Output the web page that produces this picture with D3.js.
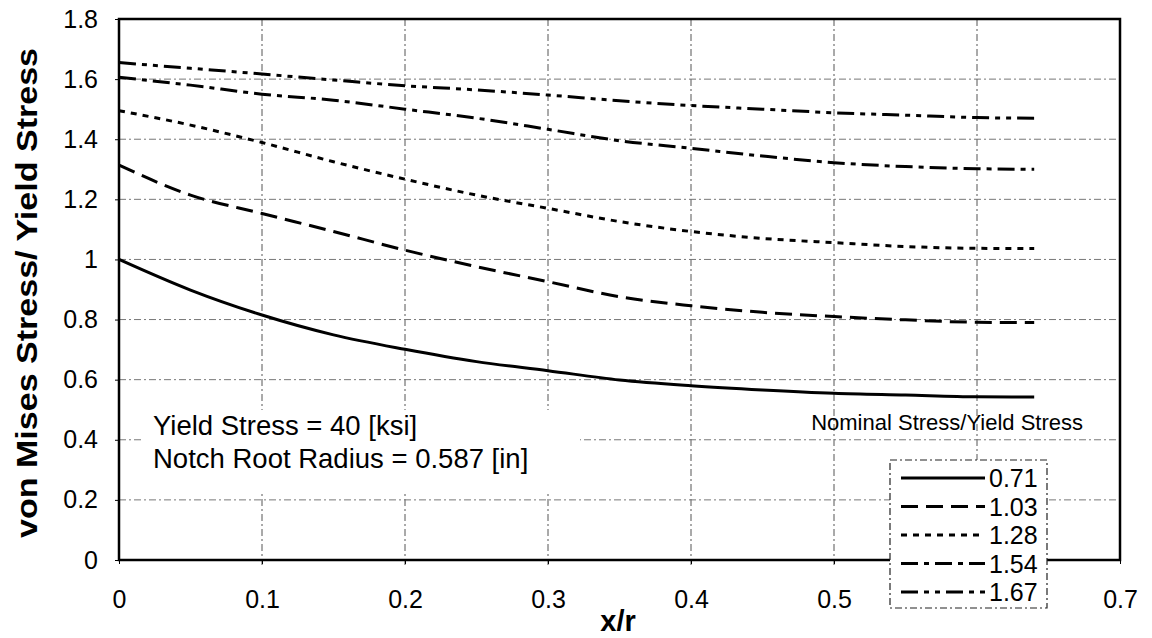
<!DOCTYPE html>
<html>
<head>
<meta charset="utf-8">
<script src="https://cdn.jsdelivr.net/npm/d3@7"></script>
<style>
  body { margin: 0; background: #fff; }
  svg { display: block; font-family: "Liberation Sans", Arial, sans-serif; }
</style>
</head>
<body>
<figure id="chart" style="margin:0"></figure>
<script>
// data
var xValues = [0, 0.05, 0.1, 0.15, 0.2, 0.25, 0.3, 0.35, 0.4, 0.45, 0.5, 0.55, 0.6, 0.64];
var s071 = [1.0, 0.898, 0.815, 0.749, 0.701, 0.66, 0.63, 0.599, 0.58, 0.566, 0.555, 0.549, 0.543, 0.542];
var s103 = [1.314, 1.214, 1.153, 1.093, 1.031, 0.976, 0.926, 0.876, 0.846, 0.824, 0.81, 0.799, 0.791, 0.79];
var s128 = [1.495, 1.447, 1.389, 1.325, 1.267, 1.214, 1.17, 1.126, 1.093, 1.07, 1.056, 1.043, 1.037, 1.036];
var s154 = [1.606, 1.58, 1.55, 1.53, 1.5, 1.47, 1.433, 1.395, 1.37, 1.344, 1.322, 1.309, 1.302, 1.3];
var s167 = [1.655, 1.636, 1.617, 1.597, 1.578, 1.564, 1.547, 1.528, 1.512, 1.5, 1.488, 1.48, 1.472, 1.47];
var seriesNames = ["0.71", "1.03", "1.28", "1.54", "1.67"];
var xTicks = [0, 0.1, 0.2, 0.3, 0.4, 0.5, 0.6, 0.7];
var yTicks = [0, 0.2, 0.4, 0.6, 0.8, 1, 1.2, 1.4, 1.6, 1.8];

var seriesData = [s071, s103, s128, s154, s167];
var dashes = [null, "17,8", "6,6", "17,6,5,6", "17,6,5,6,5,6"];

let dimensions = {
    width: 1152,
    height: 638,
    margin: { top: 19, right: 32, bottom: 78, left: 119 }
};
dimensions.boundedWidth = dimensions.width - dimensions.margin.left - dimensions.margin.right;
dimensions.boundedHeight = dimensions.height - dimensions.margin.top - dimensions.margin.bottom;

var root = d3.select("figure#chart")
    .append("svg")
    .attr("width", dimensions.width)
    .attr("height", dimensions.height);

var svg = root.append("g")
    .attr("transform", `translate(${dimensions.margin.left}, ${dimensions.margin.top})`);

var xScale = d3.scaleLinear().domain([0, 0.7]).range([0, dimensions.boundedWidth]);
var yScale = d3.scaleLinear().domain([0, 1.8]).range([dimensions.boundedHeight, 0]);

// grid lines
svg.append("g")
    .selectAll("line")
    .data(xTicks.filter(d => d > 0 && d < 0.7))
    .enter().append("line")
    .attr("x1", d => xScale(d)).attr("x2", d => xScale(d))
    .attr("y1", 0).attr("y2", dimensions.boundedHeight + 5)
    .attr("stroke", "#555").attr("stroke-width", 1)
    .attr("stroke-dasharray", "7,3,2,3");

svg.append("g")
    .selectAll("line")
    .data(yTicks.filter(d => d > 0 && d < 1.8))
    .enter().append("line")
    .attr("x1", 0).attr("x2", dimensions.boundedWidth)
    .attr("y1", d => yScale(d)).attr("y2", d => yScale(d))
    .attr("stroke", "#777").attr("stroke-width", 1)
    .attr("stroke-dasharray", "7,3,2,3");

// axes (labels only); the 0.6 label sits under the legend box
var xAxis = svg.append("g")
    .attr("transform", `translate(0, ${dimensions.boundedHeight})`)
    .call(d3.axisBottom(xScale).tickValues(xTicks)
        .tickFormat(d => d === 0.6 ? "" : d3.format("")(d))
        .tickSize(4).tickPadding(26));
xAxis.select(".domain").remove();
xAxis.selectAll("text").attr("font-size", 25).attr("fill", "#000").attr("font-family", null);

var yAxis = svg.append("g")
    .call(d3.axisLeft(yScale).tickValues(yTicks).tickFormat(d3.format("")).tickSize(4).tickPadding(17));
yAxis.select(".domain").remove();
yAxis.selectAll("text").attr("font-size", 25).attr("fill", "#000").attr("font-family", null);

// annotation box (white background hides grid)
svg.append("rect")
    .attr("x", 24).attr("y", 391)
    .attr("width", 437).attr("height", 83)
    .attr("fill", "#fff");

svg.append("text")
    .attr("x", 34).attr("y", 416)
    .attr("font-size", 27.5)
    .text("Yield Stress = 40 [ksi]");
svg.append("text")
    .attr("x", 34).attr("y", 449)
    .attr("font-size", 27.5)
    .text("Notch Root Radius = 0.587 [in]");

// series
var line = d3.line()
    .x((d, i) => xScale(xValues[i]))
    .y(d => yScale(d))
    .curve(d3.curveMonotoneX);

svg.selectAll(".series")
    .data(seriesData)
    .enter().append("path")
    .attr("class", "series")
    .attr("d", d => line(d))
    .attr("fill", "none")
    .attr("stroke", "#000")
    .attr("stroke-width", 3)
    .attr("stroke-dasharray", (d, i) => dashes[i]);

// plot frame
svg.append("rect")
    .attr("width", dimensions.boundedWidth)
    .attr("height", dimensions.boundedHeight)
    .attr("fill", "none")
    .attr("stroke", "#000")
    .attr("stroke-width", 2.5);

// legend title
svg.append("text")
    .attr("x", 1083 - dimensions.margin.left).attr("y", 430 - dimensions.margin.top)
    .attr("text-anchor", "end")
    .attr("font-size", 22)
    .text("Nominal Stress/Yield Stress");

// legend
var legend = root.append("g").attr("transform", "translate(890, 460)");
legend.append("rect")
    .attr("width", 157).attr("height", 148)
    .attr("fill", "#fff")
    .attr("stroke", "#222").attr("stroke-width", 1.2)
    .attr("stroke-dasharray", "7,3,2,3");

var rows = legend.selectAll(".row")
    .data(seriesNames)
    .enter().append("g")
    .attr("class", "row")
    .attr("transform", (d, i) => `translate(0, ${18 + i * 28.5})`);

rows.append("line")
    .attr("x1", 11).attr("x2", 95)
    .attr("stroke", "#000").attr("stroke-width", 3)
    .attr("stroke-dasharray", (d, i) => dashes[i]);

rows.append("text")
    .attr("x", 99).attr("y", 9)
    .attr("font-size", 25)
    .text(d => d);

// axis titles
root.append("text")
    .attr("x", 618).attr("y", 631)
    .attr("text-anchor", "middle")
    .attr("font-size", 29).attr("font-weight", "bold")
    .text("x/r");

root.append("text")
    .attr("transform", "translate(37, 293) rotate(-90)")
    .attr("text-anchor", "middle")
    .attr("font-size", 29).attr("font-weight", "bold")
    .attr("textLength", 490).attr("lengthAdjust", "spacingAndGlyphs")
    .text("von Mises Stress/ Yield Stress");
</script>
</body>
</html>
